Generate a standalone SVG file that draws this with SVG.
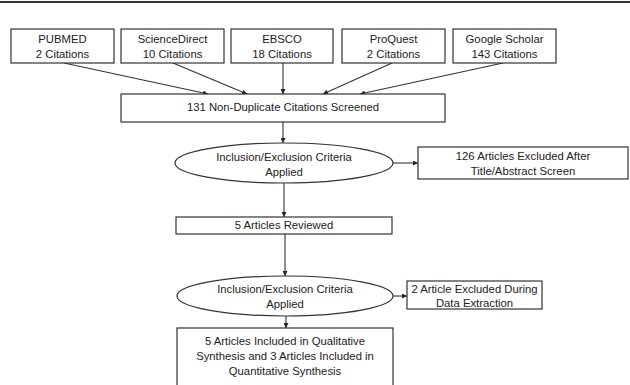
<svg xmlns="http://www.w3.org/2000/svg" width="630" height="385" viewBox="0 0 630 385">
<defs>
<marker id="ah" viewBox="0 0 10 10" refX="10" refY="5" markerWidth="5" markerHeight="5" orient="auto" markerUnits="userSpaceOnUse">
<path d="M0,0 L10,5 L0,10 z" fill="#222"/>
</marker>
</defs>
<style>
.box{fill:#fff;stroke:#333;stroke-width:1.2}
.t{font-family:"Liberation Sans",Arial,sans-serif;font-size:11.3px;fill:#222;text-anchor:middle}
.c{stroke:#333;stroke-width:1.1;fill:none;marker-end:url(#ah)}
</style>
<rect width="630" height="385" fill="#fff"/>
<line x1="0" y1="2" x2="630" y2="2" stroke="#333" stroke-width="2"/>
<g id="connectors">
<line class="c" x1="64" y1="63" x2="208" y2="94"/>
<line class="c" x1="173" y1="63" x2="247" y2="94"/>
<line class="c" x1="283" y1="63" x2="283" y2="94"/>
<line class="c" x1="392" y1="63" x2="323" y2="94"/>
<line class="c" x1="503" y1="63" x2="360" y2="94"/>
<line class="c" x1="283" y1="122" x2="283" y2="143"/>
<line class="c" x1="393" y1="163" x2="418" y2="163"/>
<line class="c" x1="284" y1="183" x2="284" y2="217"/>
<line class="c" x1="285" y1="234" x2="285" y2="276"/>
<line class="c" x1="393" y1="296" x2="407" y2="296"/>
<line class="c" x1="286" y1="316" x2="286" y2="328"/>
</g>
<g id="pubmed"><rect class="box" x="11" y="29" width="103" height="34"/><text class="t" x="62.5" y="43">PUBMED</text><text class="t" x="62.5" y="58">2 Citations</text></g>
<g id="sciencedirect"><rect class="box" x="121" y="29" width="103" height="34"/><text class="t" x="172.5" y="43">ScienceDirect</text><text class="t" x="172.5" y="58">10 Citations</text></g>
<g id="ebsco"><rect class="box" x="231" y="29" width="102" height="34"/><text class="t" x="282" y="43">EBSCO</text><text class="t" x="282" y="58">18 Citations</text></g>
<g id="proquest"><rect class="box" x="342" y="29" width="103" height="34"/><text class="t" x="393.5" y="43">ProQuest</text><text class="t" x="393.5" y="58">2 Citations</text></g>
<g id="googlescholar"><rect class="box" x="453" y="29" width="103" height="34"/><text class="t" x="504.5" y="43">Google Scholar</text><text class="t" x="504.5" y="58">143 Citations</text></g>
<g id="screened"><rect class="box" x="121" y="94" width="324" height="28"/><text class="t" x="283" y="111">131 Non-Duplicate Citations Screened</text></g>
<g id="criteria1"><ellipse class="box" cx="284" cy="163" rx="109" ry="20"/><text class="t" x="284" y="161">Inclusion/Exclusion Criteria</text><text class="t" x="284" y="176">Applied</text></g>
<g id="excluded1"><rect class="box" x="418" y="147" width="210" height="32"/><text class="t" x="523" y="160">126 Articles Excluded After</text><text class="t" x="523" y="175">Title/Abstract Screen</text></g>
<g id="reviewed"><rect class="box" x="176" y="217" width="216" height="17"/><text class="t" x="284" y="229">5 Articles Reviewed</text></g>
<g id="criteria2"><ellipse class="box" cx="285" cy="296" rx="108" ry="20"/><text class="t" x="285" y="293">Inclusion/Exclusion Criteria</text><text class="t" x="285" y="308">Applied</text></g>
<g id="excluded2"><rect class="box" x="407" y="281" width="135" height="28"/><text class="t" x="474.5" y="293">2 Article Excluded During</text><text class="t" x="474.5" y="307">Data Extraction</text></g>
<g id="included"><rect class="box" x="177" y="328" width="216" height="62"/><text class="t" x="285" y="345">5 Articles Included in Qualitative</text><text class="t" x="285" y="360">Synthesis and 3 Articles Included in</text><text class="t" x="285" y="375">Quantitative Synthesis</text></g>
</svg>
